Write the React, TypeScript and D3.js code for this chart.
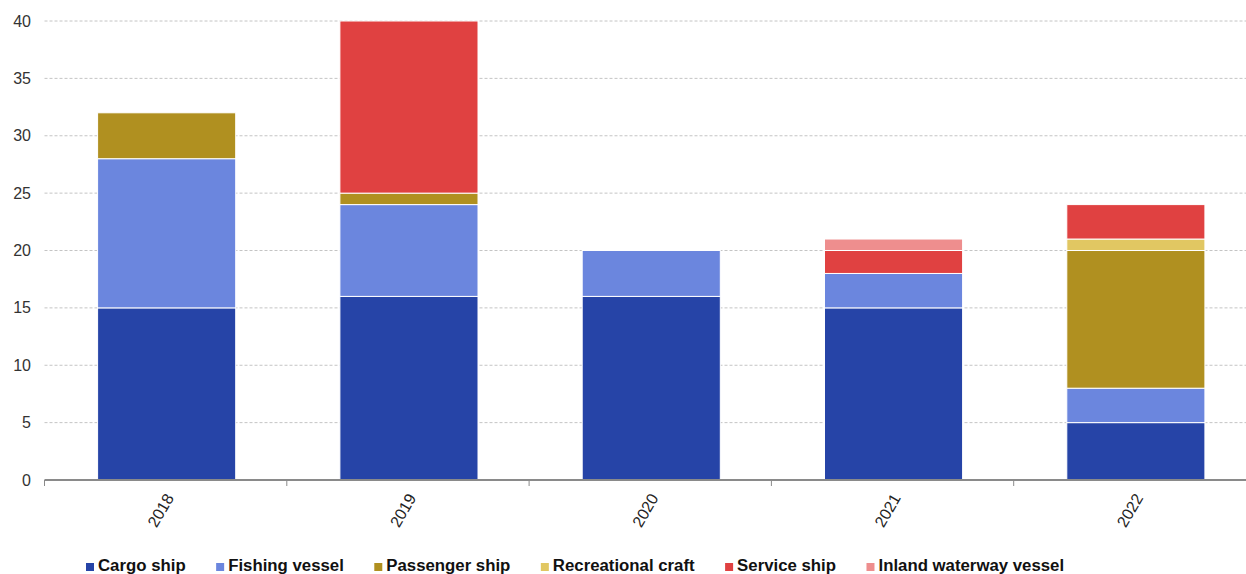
import React, { useMemo } from "react";
import * as d3 from "d3";

const years = ["2018", "2019", "2020", "2021", "2022"];
const seriesNames = [
  "Cargo ship",
  "Fishing vessel",
  "Passenger ship",
  "Recreational craft",
  "Service ship",
  "Inland waterway vessel",
];
const seriesColors = ["#2644a7", "#6b86de", "#b09020", "#e1c762", "#e04141", "#ee8e8e"];

const cargoShip = [15, 16, 16, 15, 5];
const fishingVessel = [13, 8, 4, 3, 3];
const passengerShip = [4, 1, 0, 0, 12];
const recreationalCraft = [0, 0, 0, 0, 1];
const serviceShip = [0, 15, 0, 2, 3];
const inlandWaterwayVessel = [0, 0, 0, 1, 0];

const yTicks = [0, 5, 10, 15, 20, 25, 30, 35, 40];

const W = 1246;
const H = 574;
const margin = { left: 44.5, right: 0, top: 21, bottom: 94 };
const step = 242.3;

const legendFontSize = 16.8;
const legendFont = `bold ${legendFontSize}px 'Liberation Sans', Arial, sans-serif`;

export default function App() {
  const allSeries = [cargoShip, fishingVessel, passengerShip, recreationalCraft, serviceShip, inlandWaterwayVessel];
  const rows = years.map((y, i) => {
    const r: Record<string, number | string> = { year: y };
    seriesNames.forEach((n, k) => (r[n] = allSeries[k][i]));
    return r;
  });
  const stacked = d3.stack<any>().keys(seriesNames)(rows as any);

  const x = d3
    .scaleBand<string>()
    .domain(years)
    .range([margin.left + 1, margin.left + 1 + step * years.length])
    .paddingInner(0.43)
    .paddingOuter(0.215);
  const y = d3.scaleLinear().domain([0, 40]).range([H - margin.bottom, margin.top]);

  const legendWidths = useMemo(() => {
    const c = document.createElement("canvas").getContext("2d")!;
    c.font = legendFont;
    return seriesNames.map((n) => c.measureText(n).width);
  }, []);
  let lx = 86;
  const legendPos = legendWidths.map((w) => {
    const p = lx;
    lx += 12 + w + 30.5;
    return p;
  });

  const baseY = y(0);

  return (
    <svg
      width={W}
      height={H}
      style={{ position: "absolute", left: 0, top: 0, display: "block", background: "#fff" }}
      fontFamily="'Liberation Sans', Arial, sans-serif"
    >
      {yTicks.map((t) =>
        t === 0 ? null : (
          <line
            key={"g" + t}
            x1={margin.left}
            x2={W}
            y1={y(t)}
            y2={y(t)}
            stroke="#c4c4c4"
            strokeWidth={1}
            strokeDasharray="3,2"
          />
        )
      )}
      {yTicks.map((t) => (
        <text key={"yl" + t} x={31} y={y(t)} textAnchor="end" dominantBaseline="central" fontSize={16} fill="#333">
          {t}
        </text>
      ))}
      {stacked.map((s, k) =>
        s.map((d, i) =>
          d[1] - d[0] > 0 ? (
            <rect
              key={seriesNames[k] + i}
              x={x(years[i])}
              width={x.bandwidth()}
              y={y(d[1])}
              height={y(d[0]) - y(d[1])}
              fill={seriesColors[k]}
              stroke="#fff"
              strokeWidth={1}
            />
          ) : null
        )
      )}
      <line x1={margin.left} x2={W} y1={baseY} y2={baseY} stroke="#8a8a8a" strokeWidth={2} />
      {years.map((yr, i) => (
        <line
          key={"tk" + yr}
          x1={margin.left + step * i}
          x2={margin.left + step * i}
          y1={baseY}
          y2={baseY + 6}
          stroke="#8a8a8a"
          strokeWidth={1}
        />
      ))}
      {years.map((yr) => {
        const cx = (x(yr) as number) + x.bandwidth() / 2;
        return (
          <text
            key={"xl" + yr}
            transform={`translate(${cx + 3},${baseY + 15}) rotate(-60)`}
            textAnchor="end"
            dominantBaseline="central"
            fontSize={16}
            fill="#222"
          >
            {yr}
          </text>
        );
      })}
      {seriesNames.map((n, k) => (
        <g key={"lg" + n} transform={`translate(${legendPos[k]},0)`}>
          <rect x={0} y={563} width={8} height={8} fill={seriesColors[k]} />
          <text x={12} y={571} fontSize={legendFontSize} fontWeight="bold" fill="#111">
            {n}
          </text>
        </g>
      ))}
    </svg>
  );
}
